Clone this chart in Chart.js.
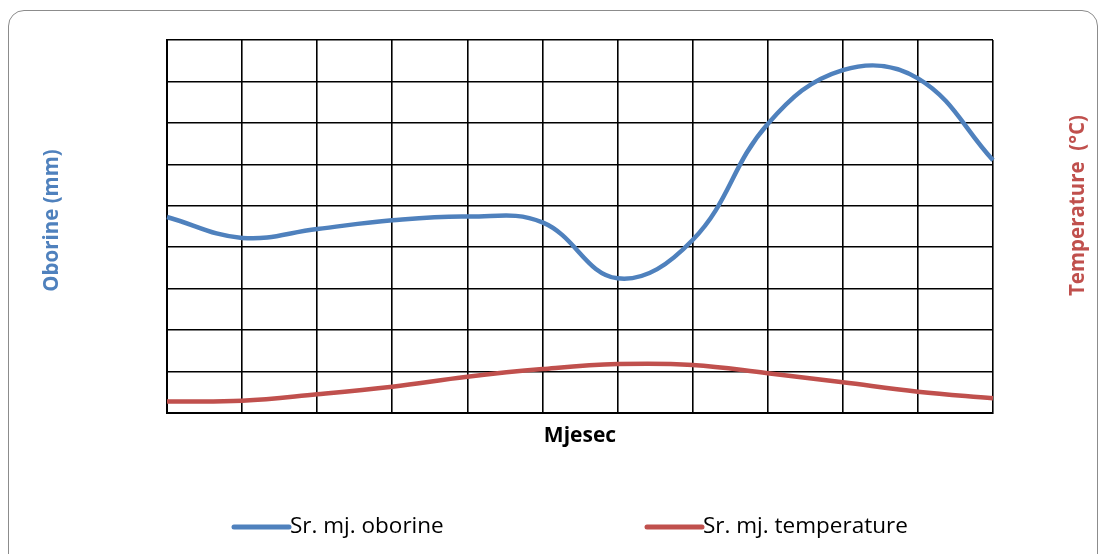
<!DOCTYPE html>
<html>
<head>
<meta charset="utf-8">
<script src="https://cdn.jsdelivr.net/npm/chart.js@4.4.1/dist/chart.umd.min.js"></script>
<style>
  html, body { margin: 0; padding: 0; background: #fff; }
  .frame {
    position: absolute; left: 8px; top: 10px; width: 1090px; height: 570px;
    border: 1.5px solid #8c8c8c; border-radius: 16px; box-sizing: border-box;
  }
  .wrap { position: absolute; left: 0; top: 0; width: 1104px; height: 554px; }
</style>
</head>
<body>
<div class="frame"></div>
<div class="wrap"><canvas id="climateChart"></canvas></div>
<script>
const months = ['I', 'II', 'III', 'IV', 'V', 'VI', 'VII', 'VIII', 'IX', 'X', 'XI', 'XII'];
const precipitation = [94.6, 84.5, 88.8, 93, 94.8, 92, 65, 83.5, 139.5, 165.5, 161.5, 122];
const temperature = [5.5, 5.9, 9.0, 12.7, 17.5, 21.2, 23.6, 23.2, 19.2, 14.8, 10.3, 7.1];

const blue = '#4F81BD';
const red = '#C0504D';
const fontFamily = '"Open Sans", "DejaVu Sans", sans-serif';

// axis titles and legend drawn by hand so they sit where the original has them
const labelsPlugin = {
    id: 'labelsPlugin',
    afterDraw(chart) {
        const ctx = chart.ctx;
        const area = chart.chartArea;
        const midX = (area.left + area.right) / 2;
        const midY = (area.top + area.bottom) / 2;
        ctx.save();
        ctx.textAlign = 'center';
        ctx.textBaseline = 'middle';

        // x title
        ctx.fillStyle = '#000';
        ctx.font = 'bold 21px ' + fontFamily;
        ctx.fillText('Mjesec', midX, area.bottom + 23);

        // left title
        ctx.save();
        ctx.translate(52, midY - 6);
        ctx.rotate(-Math.PI / 2);
        ctx.fillStyle = blue;
        ctx.font = 'bold 20.5px ' + fontFamily;
        ctx.fillText('Oborine (mm)', 0, 0);
        ctx.restore();

        // right title
        ctx.save();
        ctx.translate(1078, midY - 21);
        ctx.rotate(-Math.PI / 2);
        ctx.fillStyle = red;
        ctx.font = 'bold 20.5px ' + fontFamily;
        ctx.fillText('Temperature  (°C)', 0, 0);
        ctx.restore();

        // legend
        const y = 527;
        const lineLen = 57;
        const starts = [midX - 348, midX + 65];
        ctx.font = '22.5px ' + fontFamily;
        ctx.textAlign = 'left';
        chart.data.datasets.forEach((ds, i) => {
            const x = starts[i];
            ctx.strokeStyle = ds.borderColor;
            ctx.lineWidth = 5;
            ctx.lineCap = 'round';
            ctx.beginPath();
            ctx.moveTo(x + 2, y);
            ctx.lineTo(x + lineLen, y);
            ctx.stroke();
            ctx.fillStyle = '#000';
            ctx.fillText(ds.label, x + lineLen + 1, y);
        });
        ctx.restore();
    }
};

const ctx = document.getElementById('climateChart');
new Chart(ctx, {
    type: 'line',
    data: {
        labels: months,
        datasets: [{
            label: 'Sr. mj. oborine',
            data: precipitation,
            borderColor: blue,
            borderWidth: 4.5,
            pointRadius: 0,
            tension: 0.4,
            yAxisID: 'y'
        }, {
            label: 'Sr. mj. temperature',
            data: temperature,
            borderColor: red,
            borderWidth: 4.5,
            pointRadius: 0,
            tension: 0.4,
            yAxisID: 'y1'
        }]
    },
    options: {
        responsive: true,
        maintainAspectRatio: false,
        animation: false,
        layout: {
            padding: { left: 167, top: 40, right: 111, bottom: 141 }
        },
        plugins: {
            legend: { display: false },
            tooltip: { enabled: false }
        },
        scales: {
            x: {
                grid: { color: '#000', lineWidth: 1.6, drawTicks: false },
                border: { color: '#000', width: 2 },
                ticks: { display: false }
            },
            y: {
                min: 0,
                max: 180,
                ticks: { display: false, stepSize: 20 },
                grid: { color: '#000', lineWidth: 1.6, drawTicks: false },
                border: { color: '#000', width: 2 }
            },
            y1: {
                display: false,
                position: 'right',
                min: 0,
                max: 180
            }
        }
    },
    plugins: [labelsPlugin]
});
</script>
</body>
</html>
